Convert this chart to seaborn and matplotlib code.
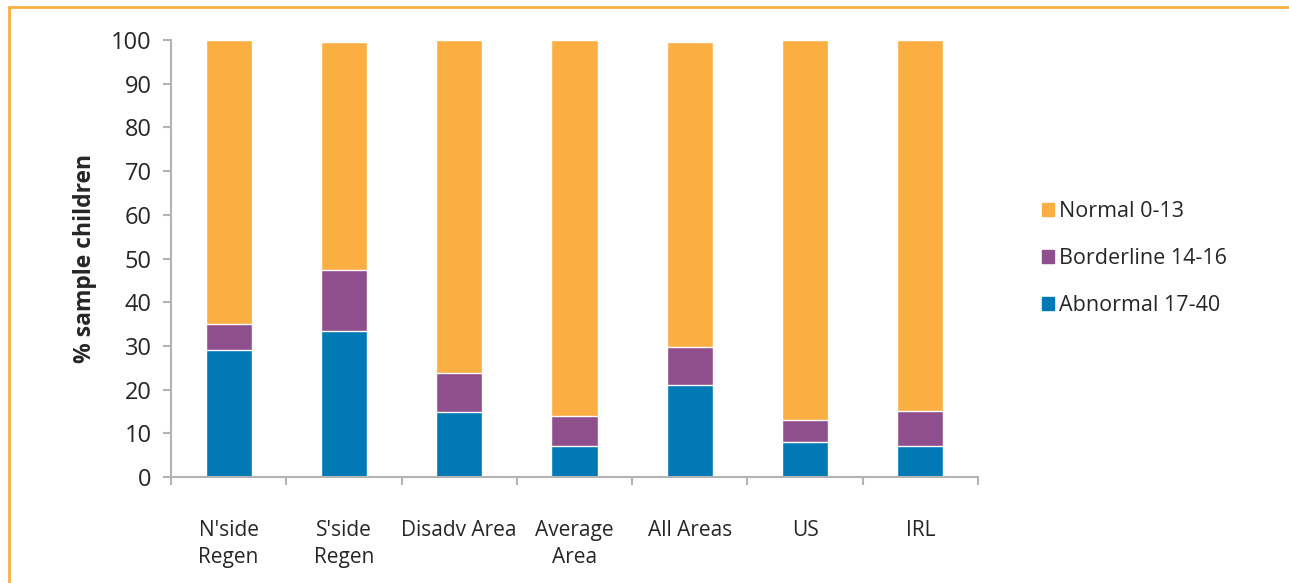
import matplotlib.pyplot as plt
import matplotlib.lines as mlines
import matplotlib.patches as mpatches
import pandas as pd
import seaborn as sns

categories = ["N'side\nRegen", "S'side\nRegen", "Disadv Area", "Average\nArea",
              "All Areas", "US", "IRL"]
abnormal = [29.0, 33.3, 14.8, 7.0, 21.0, 8.0, 7.0]
borderline = [6.0, 14.1, 9.1, 7.0, 8.8, 5.0, 8.0]
normal = [65.0, 52.1, 76.1, 86.0, 69.8, 87.0, 85.0]
series_names = ["Normal 0-13", "Borderline 14-16", "Abnormal 17-40"]

orange = "#FBAE42"
purple = "#8F4F8C"
blue = "#0079B4"
grey = "#B3B3B3"

df = pd.DataFrame({"group": categories, "abnormal": abnormal,
                   "borderline": borderline, "normal": normal})
df["lvl2"] = df["abnormal"] + df["borderline"]
df["lvl3"] = df["lvl2"] + df["normal"]

sns.set_style("white")
plt.rcParams["font.family"] = ["Open Sans", "DejaVu Sans"]

fig = plt.figure(figsize=(12.89, 5.83), dpi=100)
ax = fig.add_axes([0.1327, 0.1818, 0.7587 - 0.1327, 0.9314 - 0.1818])

# stacked bars: draw cumulative totals from the top down
sns.barplot(data=df, x="group", y="lvl3", color=orange, width=0.4,
            saturation=1, ax=ax)
sns.barplot(data=df, x="group", y="lvl2", color=purple, width=0.4,
            saturation=1, ax=ax)
sns.barplot(data=df, x="group", y="abnormal", color=blue, width=0.4,
            saturation=1, ax=ax)

ax.set_ylim(0, 100)
ax.set_xlim(-0.5, len(categories) - 0.5)
ax.set_yticks(range(0, 101, 10))
ax.set_ylabel("% sample children", fontsize=16.5, fontweight="bold", labelpad=10)
ax.set_xlabel("")

for s in ["top", "right"]:
    ax.spines[s].set_visible(False)
for s in ["left", "bottom"]:
    ax.spines[s].set_color(grey)
    ax.spines[s].set_linewidth(1.5)

ax.tick_params(axis="y", direction="out", length=6, width=1.5, color=grey,
               labelsize=17, pad=8, left=True)
ax.set_xticks([i - 0.5 for i in range(len(categories) + 1)], minor=True)
ax.tick_params(axis="x", which="minor", direction="out", length=6, width=1.5,
               color=grey, bottom=True)
ax.tick_params(axis="x", which="major", length=0, labelsize=15, pad=31)
for lbl in ax.get_xticklabels():
    lbl.set_linespacing(1.35)

handles = [mpatches.Patch(color=c) for c in (orange, purple, blue)]
ax.legend(handles, series_names, loc="center left", bbox_to_anchor=(1.055, 0.5),
          frameon=False, fontsize=15.5, handlelength=0.55, handleheight=0.55,
          handletextpad=0.25, labelspacing=1.2)

# orange frame at top and left of the figure
w, h = 1289, 583
fig.add_artist(mlines.Line2D([9 / w, 1], [1 - 7 / h, 1 - 7 / h],
                             color=orange, lw=2, transform=fig.transFigure))
fig.add_artist(mlines.Line2D([9 / w, 9 / w], [0, 1 - 7 / h],
                             color=orange, lw=2, transform=fig.transFigure))

fig.savefig("out.png", dpi=100)
plt.close(fig)
